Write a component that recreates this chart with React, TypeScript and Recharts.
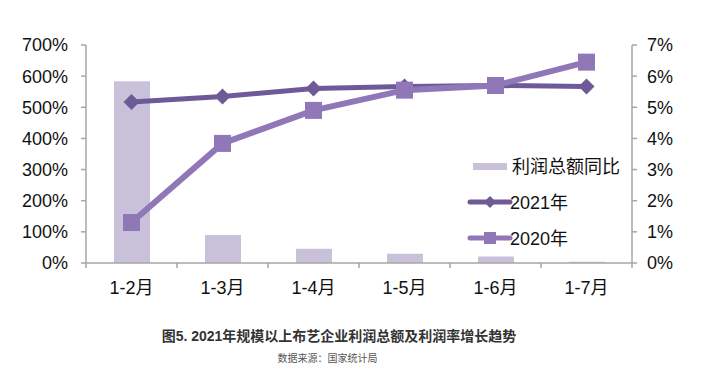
import React from 'react';
import { ComposedChart, Bar, Line, XAxis, YAxis, Legend } from 'recharts';

const categories = ['1-2月', '1-3月', '1-4月', '1-5月', '1-6月', '1-7月'];
const profitYoY = [584, 90, 46, 30, 21, 4];
const rate2021 = [5.17, 5.35, 5.6, 5.67, 5.7, 5.67];
const rate2020 = [1.3, 3.84, 4.9, 5.55, 5.7, 6.45];
const leftTicks = [0, 100, 200, 300, 400, 500, 600, 700];
const rightTicks = [0, 1, 2, 3, 4, 5, 6, 7];

const data = categories.map((c, i) => ({
  name: c,
  yoy: profitYoY[i],
  r2021: rate2021[i],
  r2020: rate2020[i],
}));

const FONT = "'Liberation Sans', Arial, 'Noto Sans CJK SC', sans-serif";
const BAR = '#c9c1da';
const C2021 = '#6e5a96';
const C2020 = '#8f77b8';
const AXIS = '#a6a6a6';

const Diamond = (props: any) => {
  const { cx, cy } = props;
  if (cx == null || cy == null) return null;
  const r = 8;
  return (
    <path
      d={`M${cx},${cy - r}L${cx + r},${cy}L${cx},${cy + r}L${cx - r},${cy}Z`}
      fill={C2021}
      stroke="none"
    />
  );
};

const Square = (props: any) => {
  const { cx, cy } = props;
  if (cx == null || cy == null) return null;
  const s = 8.5;
  return <rect x={cx - s} y={cy - s} width={s * 2} height={s * 2} fill={C2020} stroke="none" />;
};

const XTick = (props: any) => {
  const { x, y, payload, index } = props;
  const half = payload && payload.offset ? payload.offset : 45.5;
  const axisY = y - 18;
  return (
    <g>
      <line x1={x - half} y1={axisY} x2={x - half} y2={axisY + 5} stroke={AXIS} strokeWidth={1.5} />
      {index === categories.length - 1 && (
        <line x1={x + half} y1={axisY} x2={x + half} y2={axisY + 5} stroke={AXIS} strokeWidth={1.5} />
      )}
      <text x={x} y={y} dy="0.71em" textAnchor="middle" fill="#111" fontSize={18} fontFamily={FONT}>
        {payload.value}
      </text>
    </g>
  );
};

const LegendContent = () => (
  <svg width={170} height={100} style={{ overflow: 'visible', display: 'block' }}>
    <rect x={5} y={8} width={34} height={7} fill={BAR} />
    <text x={44} y={12} dominantBaseline="central" fontSize={18} fontFamily={FONT} fill="#111">
      利润总额同比
    </text>
    <line x1={2} y1={47} x2={42} y2={47} stroke={C2021} strokeWidth={5} strokeLinecap="round" />
    <path d="M22,41L28,47L22,53L16,47Z" fill={C2021} />
    <text x={42} y={48} dominantBaseline="central" fontSize={18} fontFamily={FONT} fill="#111">
      2021年
    </text>
    <line x1={2} y1={83} x2={42} y2={83} stroke={C2020} strokeWidth={5} strokeLinecap="round" />
    <rect x={16} y={77} width={12} height={12} fill={C2020} />
    <text x={42} y={84} dominantBaseline="central" fontSize={18} fontFamily={FONT} fill="#111">
      2020年
    </text>
  </svg>
);

export default function App() {
  return (
    <div style={{ position: 'absolute', left: 0, top: 0, width: 711, height: 384, background: '#fff' }}>
      <ComposedChart
        width={711}
        height={320}
        data={data}
        margin={{ top: 45, right: 0, left: 0, bottom: 0 }}
        barCategoryGap={0}
      >
        <XAxis
          dataKey="name"
          xAxisId={0}
          height={57}
          stroke={AXIS}
          strokeWidth={1.5}
          tickLine={false}
          tickSize={5}
          tickMargin={13}
          tick={<XTick />}
          interval={0}
        />
        <YAxis
          yAxisId="left"
          orientation="left"
          width={86}
          domain={[0, 700]}
          ticks={leftTicks}
          tickFormatter={(v: number) => `${v}%`}
          stroke={AXIS}
          strokeWidth={1.5}
          tickSize={5}
          tickMargin={13}
          tick={{ fill: '#111', fontSize: 18, fontFamily: FONT }}
          interval={0}
        />
        <YAxis
          yAxisId="right"
          orientation="right"
          width={79}
          domain={[0, 7]}
          ticks={rightTicks}
          tickFormatter={(v: number) => `${v}%`}
          stroke={AXIS}
          strokeWidth={1.5}
          tickSize={5}
          tickMargin={10}
          tick={{ fill: '#111', fontSize: 18, fontFamily: FONT }}
          interval={0}
        />
        <Legend
          layout="vertical"
          align="center"
          verticalAlign="middle"
          content={<LegendContent />}
          wrapperStyle={{ position: 'absolute', left: 468, top: 155, width: 170, height: 100 }}
        />
        <Bar dataKey="yoy" yAxisId="left" fill={BAR} barSize={36} isAnimationActive={false} />
        <Line
          dataKey="r2021"
          yAxisId="right"
          stroke={C2021}
          strokeWidth={5}
          dot={<Diamond />}
          activeDot={false}
          isAnimationActive={false}
        />
        <Line
          dataKey="r2020"
          yAxisId="right"
          stroke={C2020}
          strokeWidth={6}
          dot={<Square />}
          activeDot={false}
          isAnimationActive={false}
        />
      </ComposedChart>
      <div
        style={{
          position: 'absolute',
          left: 0,
          width: 678,
          top: 326,
          textAlign: 'center',
          fontFamily: FONT,
          fontWeight: 'bold',
          fontSize: 14,
          color: '#333',
          lineHeight: '20px',
        }}
      >
        图5. 2021年规模以上布艺企业利润总额及利润率增长趋势
      </div>
      <div
        style={{
          position: 'absolute',
          left: 0,
          width: 655,
          top: 351,
          textAlign: 'center',
          fontFamily: FONT,
          fontSize: 10,
          color: '#555',
          lineHeight: '16px',
        }}
      >
        数据来源：国家统计局
      </div>
    </div>
  );
}
